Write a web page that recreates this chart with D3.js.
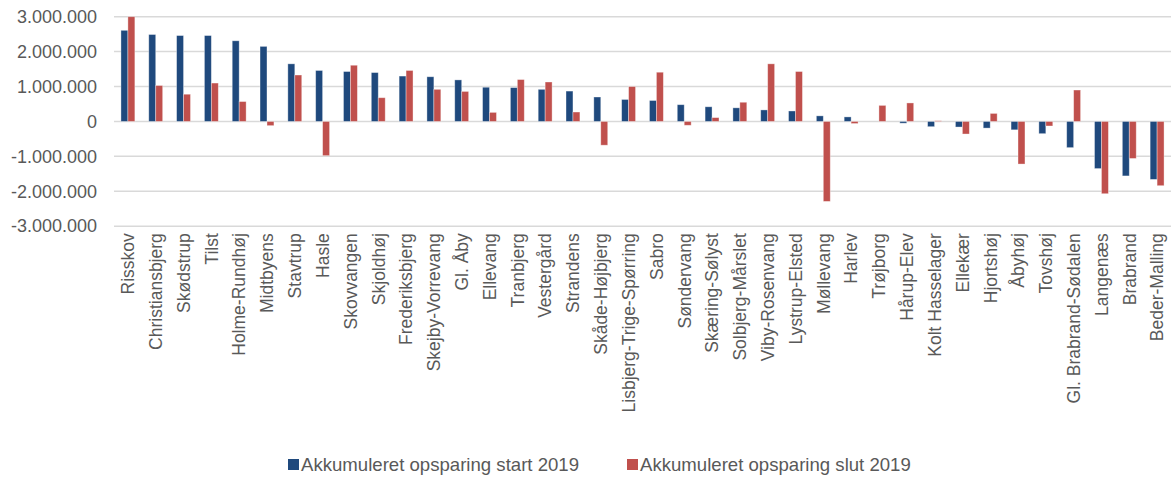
<!DOCTYPE html>
<html><head><meta charset="utf-8">
<script src="https://cdn.jsdelivr.net/npm/d3@7"></script>
<style>
body{margin:0;background:#fff;}
text{font-family:"Liberation Sans",Arial,sans-serif;fill:#595959;}
</style></head>
<body><svg id="c" width="1171" height="477"></svg>
<script>
const categories = ["Risskov","Christiansbjerg","Skødstrup","Tilst","Holme-Rundhøj","Midtbyens","Stavtrup","Hasle","Skovvangen","Skjoldhøj","Frederiksbjerg","Skejby-Vorrevang","Gl. Åby","Ellevang","Tranbjerg","Vestergård","Strandens","Skåde-Højbjerg","Lisbjerg-Trige-Spørring","Sabro","Søndervang","Skæring-Sølyst","Solbjerg-Mårslet","Viby-Rosenvang","Lystrup-Elsted","Møllevang","Harlev","Trøjborg","Hårup-Elev","Kolt Hasselager","Ellekær","Hjortshøj","Åbyhøj","Tovshøj","Gl. Brabrand-Sødalen","Langenæs","Brabrand","Beder-Malling"];
const startValues = [2610000,2490000,2460000,2460000,2310000,2150000,1650000,1460000,1430000,1400000,1300000,1280000,1190000,980000,970000,920000,870000,700000,630000,600000,480000,420000,390000,330000,300000,160000,130000,0,-50000,-150000,-160000,-190000,-240000,-350000,-750000,-1350000,-1560000,-1660000];
const slutValues = [3000000,1030000,780000,1100000,570000,-120000,1330000,-980000,1610000,680000,1460000,920000,860000,260000,1200000,1130000,270000,-680000,1000000,1410000,-110000,110000,550000,1650000,1430000,-2290000,-60000,460000,530000,20000,-360000,230000,-1220000,-130000,900000,-2070000,-1060000,-1840000];
const seriesNames = ["Akkumuleret opsparing start 2019","Akkumuleret opsparing slut 2019"];
const yTicks = [-3000000,-2000000,-1000000,0,1000000,2000000,3000000];
const colors = ["#1F497D","#C0504D"];

(function(){
const svg = d3.select("#c");
const mLeft = 114, mRight = 1171, mTop = 16.7, mBottom = 226.2;
const x0 = d3.scaleBand().domain(categories).range([mLeft, mRight]).padding(0);
const x1 = d3.scaleBand().domain([0,1]).range([0, x0.bandwidth()]).paddingInner(0).paddingOuter(1);
const y = d3.scaleLinear().domain([-3000000, 3000000]).range([mBottom, mTop]);
const loc = d3.formatLocale({thousands:".", decimal:",", grouping:[3], currency:["",""], minus:"-"});
const fmt = loc.format(",");

svg.append("g").selectAll("line").data(yTicks).join("line")
  .attr("x1", mLeft).attr("x2", mRight)
  .attr("y1", d => y(d)).attr("y2", d => y(d))
  .attr("stroke", "#d9d9d9").attr("stroke-width", 1.5);

const yAxis = svg.append("g").attr("transform", `translate(${mLeft},0)`)
  .call(d3.axisLeft(y).tickValues(yTicks).tickFormat(fmt).tickSize(0).tickPadding(17));
yAxis.select(".domain").remove();
yAxis.selectAll("text").attr("font-size", "18px").attr("fill", "#595959")
  .style("font-family", '"Liberation Sans",Arial,sans-serif');

const series = [startValues, slutValues];
series.forEach((vals, si) => {
  svg.append("g").selectAll("rect").data(vals).join("rect")
    .attr("x", (d, i) => x0(categories[i]) + x1(si))
    .attr("width", x1.bandwidth())
    .attr("y", d => y(Math.max(0, d)))
    .attr("height", d => Math.abs(y(d) - y(0)))
    .attr("fill", colors[si])
    .attr("stroke", "#ffffff").attr("stroke-opacity", 0.45).attr("stroke-width", 0.8);
});

const xAxis = svg.append("g").attr("transform", `translate(0,${mBottom})`)
  .call(d3.axisBottom(x0).tickSize(0).tickPadding(0));
xAxis.select(".domain").remove();
xAxis.selectAll("text")
  .attr("font-size", "17.5px").attr("fill", "#595959")
  .style("font-family", '"Liberation Sans",Arial,sans-serif')
  .attr("text-anchor", "end")
  .attr("transform", "translate(0,7) rotate(-90)")
  .attr("x", 0).attr("y", 0).attr("dy", "0.36em");

const lg = svg.append("g");
const itemX = [288, 627];
seriesNames.forEach((n, i) => {
  lg.append("rect").attr("x", itemX[i]).attr("y", 459).attr("width", 11).attr("height", 11).attr("fill", colors[i]);
  lg.append("text").attr("x", itemX[i] + 13).attr("y", 471).attr("font-size", "18.6px").text(n);
});
})();
</script></body></html>
